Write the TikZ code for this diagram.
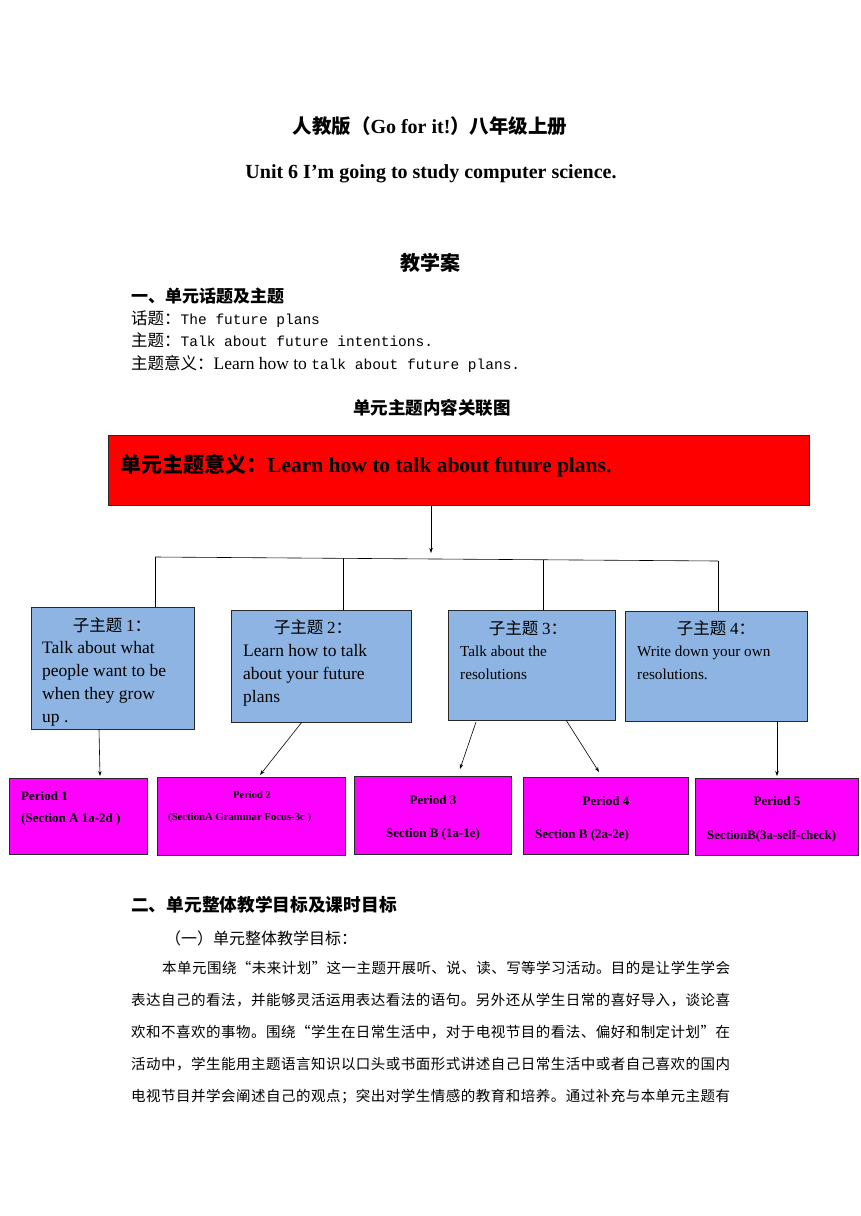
\documentclass[tikz,border=0pt]{standalone}
\usepackage{fontspec}
\setmainfont{Liberation Serif}
\newfontfamily\cjk{Noto Sans CJK SC}
\newfontfamily\mono{Liberation Mono}
\usetikzlibrary{arrows.meta}
\definecolor{boxblue}{RGB}{141,180,226}
\definecolor{boxmag}{RGB}{255,0,255}
\definecolor{boxred}{RGB}{255,0,0}
\definecolor{edge}{RGB}{40,40,40}
\newcommand\setfs[1]{\fontsize{#1}{#1}\selectfont}
\makeatletter
\def\spreadtext#1{\spread@first#1\spread@end}
\def\spread@end{\relax}
\def\spread@first#1{#1\spread@next}
\def\spread@next#1{\ifx#1\spread@end\else\hskip0pt plus 1fil\relax#1\expandafter\spread@next\fi}
\makeatother
\tikzset{
  txt/.style={inner sep=0pt, anchor=base west},
  ctxt/.style={inner sep=0pt, anchor=base},
  bluebox/.style={draw=edge, line width=0.8pt, fill=boxblue, inner sep=0pt},
  magbox/.style={draw=edge, line width=0.8pt, fill=boxmag, inner sep=0pt},
  redbox/.style={draw=edge, line width=0.8pt, fill=boxred, inner sep=0pt},
  conn/.style={line width=0.6pt, draw=black},
  arr/.style={line width=0.6pt, draw=black, -{Stealth[length=5pt,width=3.5pt]}},
}
\begin{document}
\begin{tikzpicture}[x=1pt,y=-1pt]
\useasboundingbox (0,0) rectangle (860,1216);
\fill[white] (0,0) rectangle (860,1216);

% header
\node[ctxt] (t1) at (430,133) {\setfs{19.5}\cjk\bfseries 人教版（\rmfamily\setfs{20}Go for it!\cjk\setfs{19.5}）八年级上册};
\node[ctxt] (t2) at (431,178) {\setfs{20}\bfseries Unit 6 I’m going to study computer science.};
\node[ctxt] (t3) at (430,270) {\setfs{20}\cjk\bfseries 教学案};
\node[txt] (h1) at (131,302) {\setfs{17}\cjk\bfseries 一、单元话题及主题};
\node[txt] (l1) at (131,324) {\setfs{16.5}\cjk 话题：\mono\setfs{14.5}The future plans};
\node[txt] (l2) at (131,346) {\setfs{16.5}\cjk 主题：\mono\setfs{14.5}Talk about future intentions.};
\node[txt] (l3) at (131,369) {\setfs{16.5}\cjk 主题意义：\rmfamily\setfs{17.5}Learn how to \mono\setfs{14.5}talk about future plans.};
\node[ctxt] (cap) at (432,414) {\setfs{17.5}\cjk\bfseries 单元主题内容关联图};

% red box
\node[redbox, minimum width=701, minimum height=70] (red) at (458.5,470) {};
\node[txt] (redt) at (120,472) {\setfs{21}\cjk\bfseries 单元主题意义：\rmfamily\setfs{21.5}Learn how to talk about future plans.};

% blue boxes
\node[bluebox, minimum width=163, minimum height=122] (b1) at (112.5,668) {};
\node[bluebox, minimum width=180, minimum height=112] (b2) at (321,666) {};
\node[bluebox, minimum width=167, minimum height=110] (b3) at (531.5,665) {};
\node[bluebox, minimum width=182, minimum height=110] (b4) at (716,666) {};

% tree connectors
\coordinate (hub) at (431,553);
\coordinate (hl) at (155,557);
\coordinate (hr) at (718,561);
\coordinate (d1) at (155,557.2);
\coordinate (d2) at (343,558.3);
\coordinate (d3) at (543,559.5);
\coordinate (d4) at (718,561);
\draw[arr] (red.south -| hub) -- (hub);
\draw[conn] (hl) -- (hr);
\draw[conn] (d1) -- (d1 |- b1.north);
\draw[conn] (d2) -- (d2 |- b2.north);
\draw[conn] (d3) -- (d3 |- b3.north);
\draw[conn] (d4) -- (d4 |- b4.north);

% blue box texts
\node[ctxt] (b1h) at (112,631) {\setfs{16.5}\cjk 子主题 \rmfamily\setfs{17}1\cjk\setfs{16.5}：};
\node[txt] (b1a) at (42,653) {\setfs{17.5}Talk about what};
\node[txt] (b1b) at (42,676) {\setfs{17.5}people want to be};
\node[txt] (b1c) at (42,699) {\setfs{17.5}when they grow};
\node[txt] (b1d) at (42,722) {\setfs{17.5}up .};

\node[ctxt] (b2h) at (313,633) {\setfs{16.5}\cjk 子主题 \rmfamily\setfs{17}2\cjk\setfs{16.5}：};
\node[txt] (b2a) at (243,656) {\setfs{17.5}Learn how to talk};
\node[txt] (b2b) at (243,679) {\setfs{17.5}about your future};
\node[txt] (b2c) at (243,702) {\setfs{17.5}plans};

\node[ctxt] (b3h) at (528,634) {\setfs{16.5}\cjk 子主题 \rmfamily\setfs{17}3\cjk\setfs{16.5}：};
\node[txt] (b3a) at (460,656) {\setfs{15.2}Talk about the};
\node[txt] (b3b) at (460,679) {\setfs{15.2}resolutions};

\node[ctxt] (b4h) at (716,634) {\setfs{16.5}\cjk 子主题 \rmfamily\setfs{17}4\cjk\setfs{16.5}：};
\node[txt] (b4a) at (637,656) {\setfs{15.2}Write down your own};
\node[txt] (b4b) at (637,679) {\setfs{15.2}resolutions.};

% magenta boxes
\node[magbox, minimum width=138, minimum height=76] (p1) at (78,816) {};
\node[magbox, minimum width=188, minimum height=78] (p2) at (251,816) {};
\node[magbox, minimum width=157, minimum height=78] (p3) at (432.5,815) {};
\node[magbox, minimum width=165, minimum height=77] (p4) at (605.5,815.5) {};
\node[magbox, minimum width=163, minimum height=77] (p5) at (776.5,816.5) {};

% arrows to periods
\coordinate (a1) at (99,729);
\coordinate (a2) at (302,722);
\coordinate (a3) at (476,722);
\coordinate (a4) at (566,720);
\coordinate (a5) at (777,722);
\draw[arr] (a1) -- (100,776);
\draw[arr] (a2) -- (260,775);
\draw[arr] (a3) -- (460,769);
\draw[arr] (a4) -- (599,772);
\draw[arr] (a5) -- (777,776);

% period texts
\node[txt] (p1a) at (21,800) {\setfs{13}\bfseries Period 1};
\node[txt] (p1b) at (21,822) {\setfs{13}\bfseries (Section A 1a-2d )};
\node[ctxt] (p2a) at (252,798) {\setfs{10.5}\bfseries Period 2};
\node[txt] (p2b) at (168,820) {\setfs{10.7}\bfseries (SectionA Grammar Focus-3c )};
\node[ctxt] (p3a) at (433,804) {\setfs{13}\bfseries Period 3};
\node[ctxt] (p3b) at (433,837) {\setfs{13}\bfseries Section B (1a-1e)};
\node[ctxt] (p4a) at (606,805) {\setfs{13}\bfseries Period 4};
\node[txt] (p4b) at (535,838) {\setfs{13}\bfseries Section B (2a-2e)};
\node[ctxt] (p5a) at (777,805) {\setfs{13}\bfseries Period 5};
\node[txt] (p5b) at (707,839) {\setfs{12.9}\bfseries SectionB(3a-self-check)};

% section two
\node[txt] (h2) at (131,911) {\setfs{17.7}\cjk\bfseries 二、单元整体教学目标及课时目标};
\node[txt] (h3) at (165,944) {\setfs{16}\cjk （一）单元整体教学目标：};
\node[txt] (q1) at (162,973) {\makebox[568pt][s]{\setfs{14.5}\cjk\spreadtext{本单元围绕“未来计划”这一主题开展听、说、读、写等学习活动。目的是让学生学会}}};
\node[txt] (q2) at (131,1005) {\makebox[599pt][s]{\setfs{14.5}\cjk\spreadtext{表达自己的看法，并能够灵活运用表达看法的语句。另外还从学生日常的喜好导入，谈论喜}}};
\node[txt] (q3) at (131,1037) {\makebox[599pt][s]{\setfs{14.5}\cjk\spreadtext{欢和不喜欢的事物。围绕“学生在日常生活中，对于电视节目的看法、偏好和制定计划”在}}};
\node[txt] (q4) at (131,1069) {\makebox[599pt][s]{\setfs{14.5}\cjk\spreadtext{活动中，学生能用主题语言知识以口头或书面形式讲述自己日常生活中或者自己喜欢的国内}}};
\node[txt] (q5) at (131,1101) {\makebox[599pt][s]{\setfs{14.5}\cjk\spreadtext{电视节目并学会阐述自己的观点；突出对学生情感的教育和培养。通过补充与本单元主题有}}};
\end{tikzpicture}
\end{document}
